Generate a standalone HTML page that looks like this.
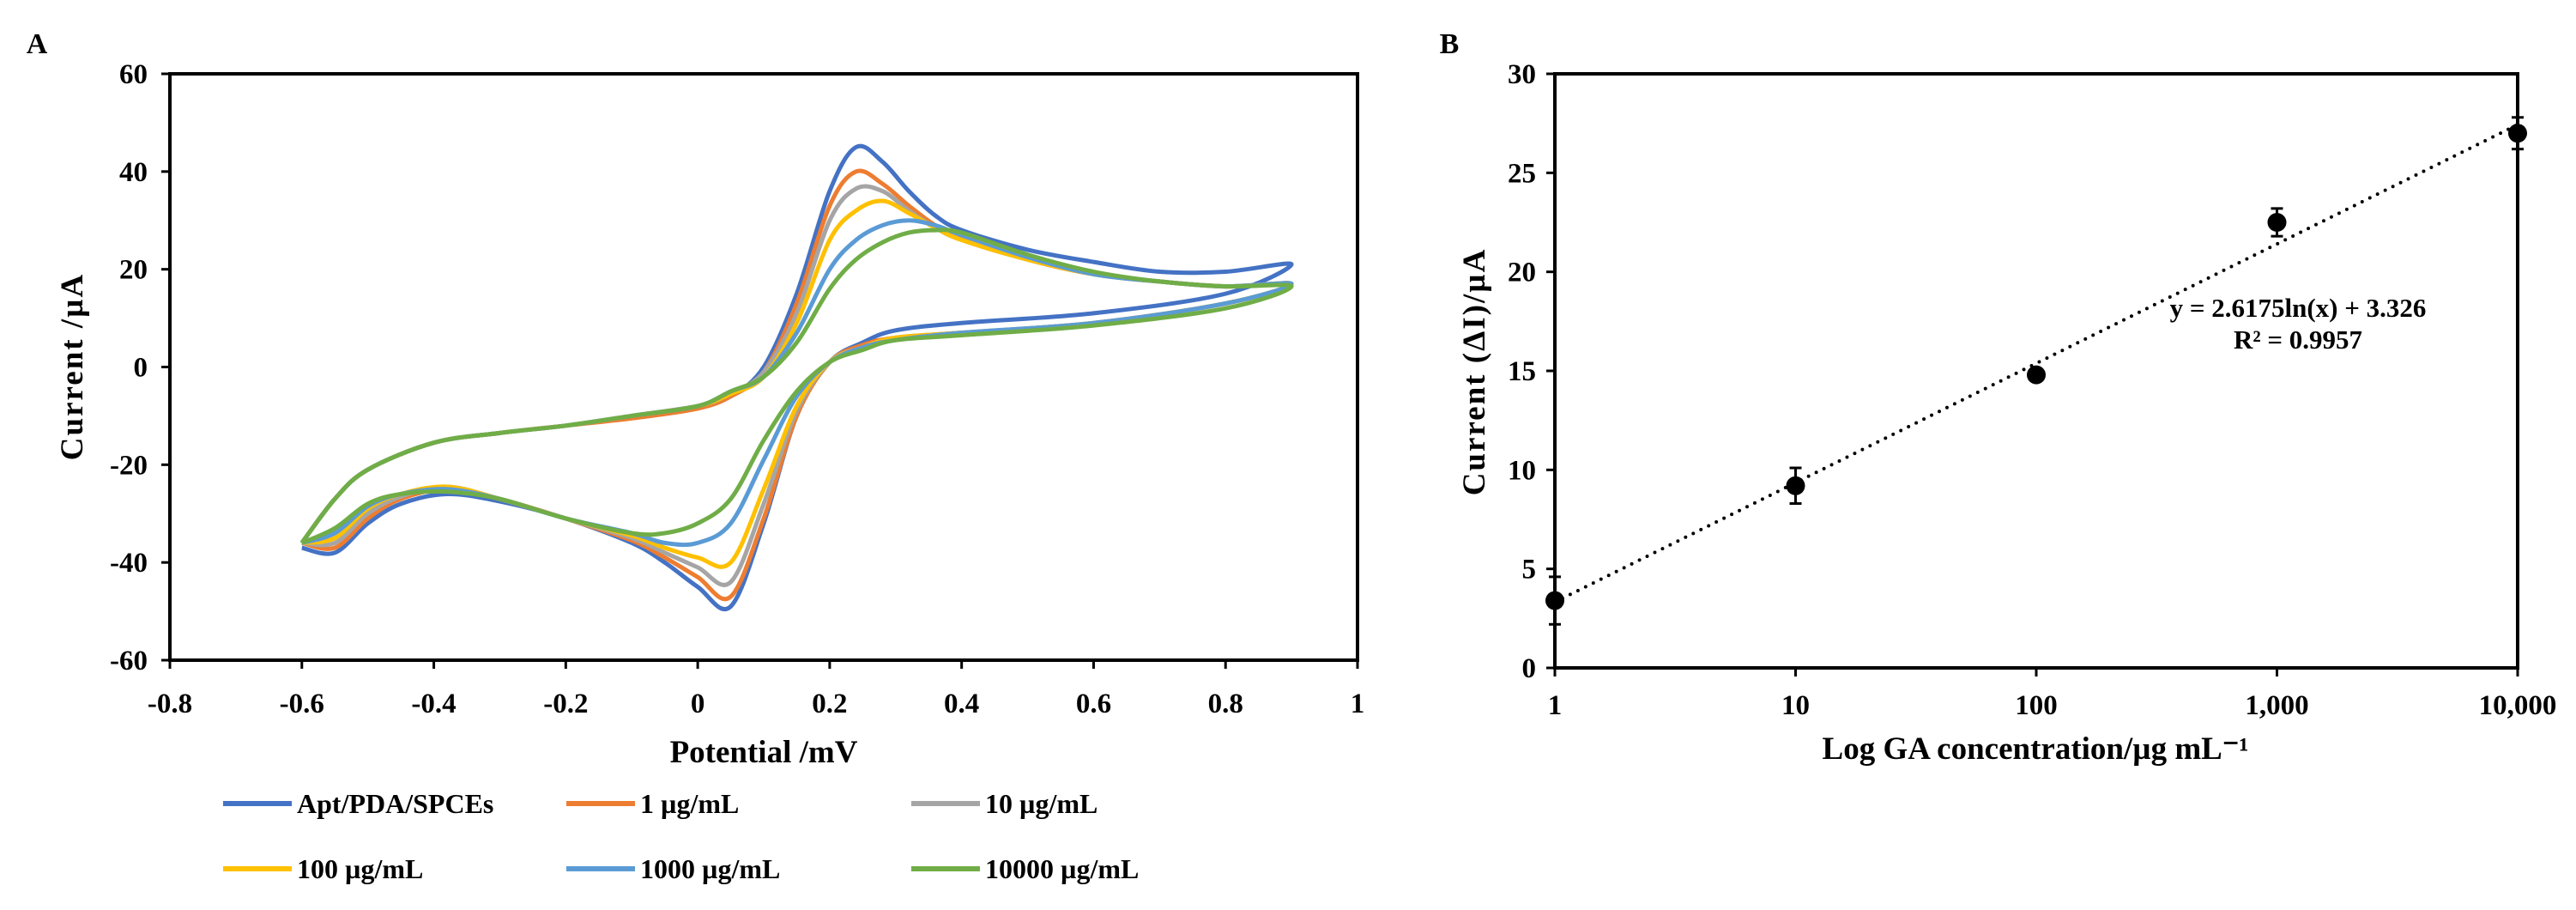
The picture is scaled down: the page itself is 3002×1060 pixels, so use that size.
<!DOCTYPE html>
<html><head><meta charset="utf-8"><style>
html,body{margin:0;padding:0;background:#fff;}
svg{display:block;font-family:"Liberation Serif",serif;font-weight:bold;}
</style></head><body>
<svg id="fig" width="3002" height="1060" viewBox="0 0 3002 1060" xmlns="http://www.w3.org/2000/svg">
<g id="A"></g>
<g id="B"></g>
</svg>
<script>
// ---- Panel A data ----
const xTicksA = [-0.8,-0.6,-0.4,-0.2,0,0.2,0.4,0.6,0.8,1];
const yTicksA = [-60,-40,-20,0,20,40,60];
const seriesNames = ["Apt/PDA/SPCEs","1 µg/mL","10 µg/mL","100 µg/mL","1000 µg/mL","10000 µg/mL"];
const seriesColors = ["#4472C4","#ED7D31","#A5A5A5","#FFC000","#5B9BD5","#70AD47"];
const eUp = [-0.6,-0.55,-0.5,-0.4,-0.3,-0.2,-0.1,0,0.05,0.1,0.15,0.2,0.24,0.28,0.32,0.36,0.4,0.5,0.6,0.7,0.8,0.9];
const eLo = [0.9,0.8,0.6,0.4,0.3,0.25,0.2,0.15,0.1,0.05,0,-0.05,-0.1,-0.2,-0.3,-0.38,-0.45,-0.5,-0.55,-0.6];
const upBlue   = [-36,-27,-21,-15.5,-13.5,-12,-10,-8,-6,0,15,36,45,42,36,31,28,24,21.5,19.5,19.5,21];
const upOrange = [-36,-27,-21,-15.5,-13.5,-12,-10.5,-8.5,-6,-1,13,33,40,37.5,33,29,26.5,22,19,17.5,16.5,17];
const upGray   = [-36,-27,-21,-15.5,-13.5,-12,-10,-8,-5.5,-1,11,30,36.5,36,32,28.5,26,22,19,17.5,16.5,17];
const upYellow = [-36,-27,-21,-15.5,-13.5,-12,-10,-8,-5.5,-2,9,26,32,34,31.5,28.5,26,22,19,17.5,16.5,17];
const upLblue  = [-36,-27,-21,-15.5,-13.5,-12,-10,-8,-5,-2,7,20,26,29,30,29,27,22.5,19,17.5,16.5,17];
const upGreen  = [-36,-27,-21,-15.5,-13.5,-12,-10,-8,-5,-2,5,16,22,25.5,27.5,28,27.5,23,19.5,17.5,16.5,16.5];
const loBlue   = [21,15,11,9,7.5,5,1,-10,-32,-49,-45,-40,-36,-31,-27.5,-26,-28,-32,-38,-37];
const loOrange = [17,13,9,7,6,4.5,1,-10,-31,-47,-43,-39,-35.5,-31,-27,-25,-27,-31,-37,-36];
const loGray   = [17,13,9,7,6,4,1,-9,-28,-44,-41,-38,-35,-31,-27,-24.5,-26.5,-30,-36,-36];
const loYellow = [17,13,9,7,6,4,1,-8,-25,-40,-39,-37,-34.5,-31,-27,-24.5,-26,-29,-35,-36];
const loLblue  = [17,13,9,7,5.5,4,1,-6,-19,-32,-36,-36,-34,-31,-27,-25,-26,-28.5,-34,-36];
const loGreen  = [16,12,8.5,6.5,5.5,3.5,1,-5,-15,-27,-32,-34,-34,-31,-27,-25.5,-26,-28,-33,-36];
const upAll = [upBlue,upOrange,upGray,upYellow,upLblue,upGreen];
const loAll = [loBlue,loOrange,loGray,loYellow,loLblue,loGreen];
// ---- Panel B data ----
const concB = [1,10,100,1000,10000];
const currB = [3.4,9.2,14.8,22.5,27.0];
const errB = [1.2,0.9,0.3,0.7,0.8];
const yTicksB = [0,5,10,15,20,25,30];
const xTickLabelsB = ["1","10","100","1,000","10,000"];
const fitSlope = 2.6175, fitIntercept = 3.326;

const NS="http://www.w3.org/2000/svg";
function mk(parent,tag,attrs,text){const e=document.createElementNS(NS,tag);for(const k in attrs)e.setAttribute(k,attrs[k]);if(text!==undefined)e.textContent=text;parent.appendChild(e);return e;}
function smooth(pts){let d="M"+pts[0][0]+","+pts[0][1];for(let i=0;i<pts.length-1;i++){const p0=pts[Math.max(0,i-1)],p1=pts[i],p2=pts[i+1],p3=pts[Math.min(pts.length-1,i+2)];const c1=[p1[0]+(p2[0]-p0[0])/6,p1[1]+(p2[1]-p0[1])/6],c2=[p2[0]-(p3[0]-p1[0])/6,p2[1]-(p3[1]-p1[1])/6];d+=" C"+c1[0]+","+c1[1]+" "+c2[0]+","+c2[1]+" "+p2[0]+","+p2[1];}return d;}

// Panel A
const A=document.getElementById('A');
const AL=198,AR=1582,AT=86,AB=769;
const xA=v=>AL+(v+0.8)/1.8*(AR-AL);
const yA=v=>AB-(v+60)/120*(AB-AT);
let t=mk(A,'text',{x:43,y:62,'font-size':34,'text-anchor':'middle'},'A');


for(let i=0;i<seriesNames.length;i++){
  const pts=eUp.map((e,j)=>[xA(e),yA(upAll[i][j])]).concat(eLo.slice(1).map((e,j)=>[xA(e),yA(loAll[i][j+1])]));
  const p=mk(A,'path',{d:smooth(pts),fill:'none',stroke:seriesColors[i],'stroke-width':5,'stroke-linejoin':'round'});
  
  
}
let fr=mk(A,'rect',{x:AL,y:AT,width:AR-AL,height:AB-AT,fill:'none',stroke:'#000','stroke-width':4});


xTicksA.forEach(v=>{
  mk(A,'line',{x1:xA(v),x2:xA(v),y1:AB,y2:AB+10,stroke:'#000','stroke-width':3});
  const l=mk(A,'text',{x:xA(v),y:830,'font-size':33,'text-anchor':'middle'},String(v));
  
  
});
yTicksA.forEach(v=>{
  mk(A,'line',{x1:AL-10,x2:AL,y1:yA(v),y2:yA(v),stroke:'#000','stroke-width':3});
  const l=mk(A,'text',{x:172,y:yA(v)+11,'font-size':33,'text-anchor':'end'},String(v));
  
  
});
t=mk(A,'text',{x:890,y:888,'font-size':37,'text-anchor':'middle'},'Potential /mV');


t=mk(A,'text',{x:0,y:0,'font-size':37,'text-anchor':'middle','letter-spacing':2,transform:'translate(96,427) rotate(-90)'},'Current /µA');


const legX=[260,660,1062],legY=[936,1012];
for(let i=0;i<seriesNames.length;i++){
  const cx=legX[i%3],cy=legY[Math.floor(i/3)];
  const g=mk(A,'g',{});
  
  
  mk(g,'line',{x1:cx,x2:cx+80,y1:cy,y2:cy,stroke:seriesColors[i],'stroke-width':6});
  mk(g,'text',{x:cx+86,y:cy+11,'font-size':32},seriesNames[i]);
}

// Panel B
const B=document.getElementById('B');
const BL=1812,BR=2934,BT=86,BB=778;
const xB=c=>BL+Math.log10(c)/4*(BR-BL);
const yB=v=>BB-v/30*(BB-BT);
t=mk(B,'text',{x:1689,y:62,'font-size':34,'text-anchor':'middle'},'B');


fr=mk(B,'rect',{x:BL,y:BT,width:BR-BL,height:BB-BT,fill:'none',stroke:'#000','stroke-width':4});


yTicksB.forEach(v=>{
  mk(B,'line',{x1:BL-10,x2:BL,y1:yB(v),y2:yB(v),stroke:'#000','stroke-width':3});
  const l=mk(B,'text',{x:1790,y:yB(v)+11,'font-size':33,'text-anchor':'end'},String(v));
  
  
});
concB.forEach((c,i)=>{
  mk(B,'line',{x1:xB(c),x2:xB(c),y1:BB,y2:BB+10,stroke:'#000','stroke-width':3});
  const l=mk(B,'text',{x:xB(c),y:832,'font-size':33,'text-anchor':'middle'},xTickLabelsB[i]);
  
  
});
const tl=mk(B,'line',{x1:xB(1),y1:yB(fitIntercept),x2:xB(10000),y2:yB(fitSlope*Math.log(10000)+fitIntercept),stroke:'#000','stroke-width':4,'stroke-dasharray':'0 10','stroke-linecap':'round'});


concB.forEach((c,i)=>{
  const g=mk(B,'g',{});
  
  
  const x=xB(c),y1=yB(currB[i]+errB[i]),y2=yB(currB[i]-errB[i]);
  mk(g,'line',{x1:x,x2:x,y1:y1,y2:y2,stroke:'#000','stroke-width':3});
  mk(g,'line',{x1:x-7,x2:x+7,y1:y1,y2:y1,stroke:'#000','stroke-width':3});
  mk(g,'line',{x1:x-7,x2:x+7,y1:y2,y2:y2,stroke:'#000','stroke-width':3});
  mk(g,'circle',{cx:x,cy:yB(currB[i]),r:11,fill:'#000'});
});
t=mk(B,'text',{x:2678,y:369,'font-size':31,'text-anchor':'middle'},'y = 2.6175ln(x) + 3.326');


t=mk(B,'text',{x:2678,y:406,'font-size':31,'text-anchor':'middle'},'R² = 0.9957');


t=mk(B,'text',{x:2372,y:884,'font-size':37,'text-anchor':'middle'},'Log GA concentration/µg mL⁻¹');


t=mk(B,'text',{x:0,y:0,'font-size':37,'text-anchor':'middle','letter-spacing':2,transform:'translate(1730,433) rotate(-90)'},'Current (ΔI)/µA');


</script>
</body></html>
